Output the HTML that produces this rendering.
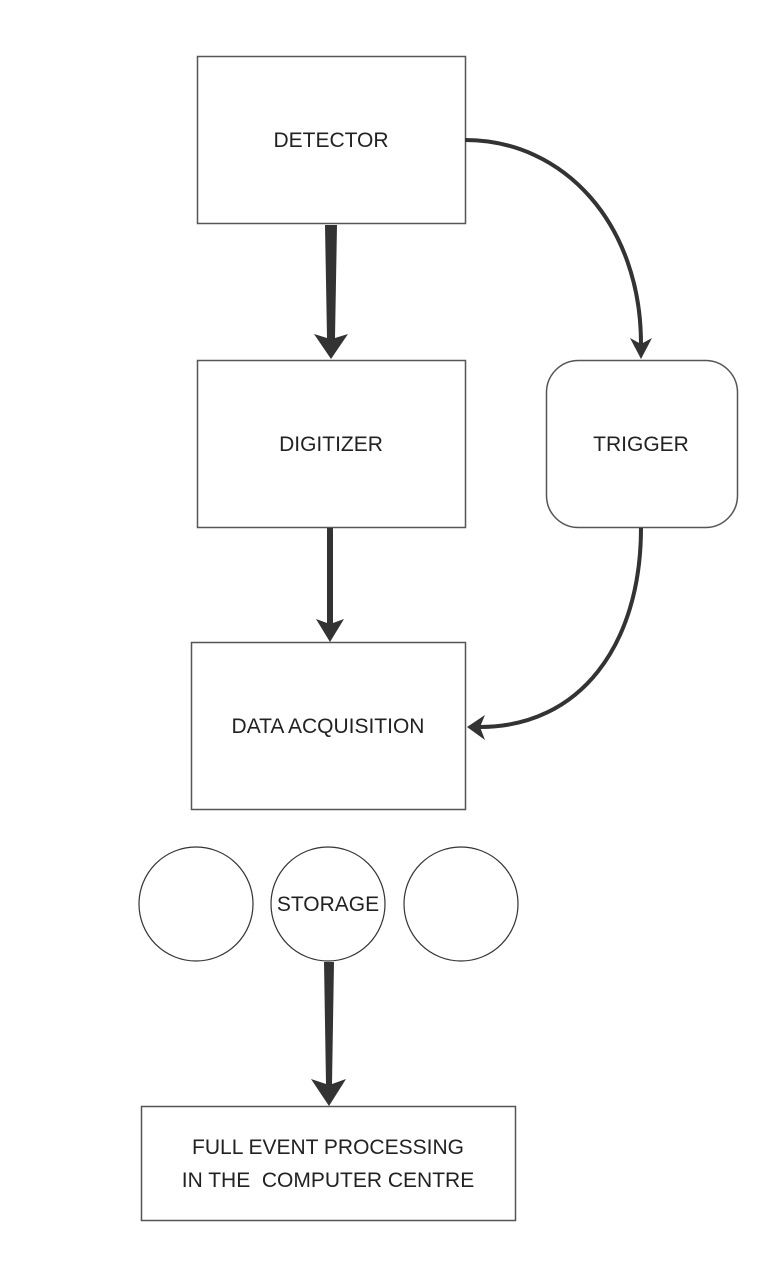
<!DOCTYPE html>
<html><head><meta charset="utf-8"><style>
html,body{margin:0;padding:0;background:#fff;}
svg{display:block;}
text{font-family:"Liberation Sans",sans-serif;font-size:21px;fill:#222;text-anchor:middle;}
</style></head><body>
<svg width="781" height="1279" viewBox="0 0 781 1279" xmlns="http://www.w3.org/2000/svg">
<g fill="#fff" stroke="#555" stroke-width="1.5">
<rect x="197.5" y="56.5" width="268" height="167"/>
<rect x="197.5" y="360.5" width="268" height="167"/>
<rect x="546.5" y="360.5" width="191" height="167" rx="32"/>
<rect x="191.5" y="642.5" width="274" height="167"/>
<rect x="141.5" y="1106.5" width="374" height="114"/>
</g>
<g fill="#fff" stroke="#333" stroke-width="1.2">
<circle cx="196" cy="904" r="57"/>
<circle cx="328" cy="904" r="57"/>
<circle cx="461" cy="904" r="57"/>
</g>
<g fill="#333">
<polygon points="325,225 337,225 335,338 348,334 331,359 314,334 327,338"/>
<polygon points="327,528 333,528 333,623 344,619 330,642 316,619 327,623"/>
<polygon points="324,962 334,962 332,1084 346,1079 329,1106 311,1079 326,1084"/>
<polygon points="630,338 641,344 652,338 641,359"/>
<polygon points="467,727 485,715 480,727 485,740"/>
</g>
<g fill="none" stroke="#333" stroke-width="4">
<path d="M465,140 C565,140 641,225 641,344"/>
<path d="M641,528 C641,645 580,727 480,727"/>
</g>
<text x="331" y="147">DETECTOR</text>
<text x="331" y="451">DIGITIZER</text>
<text x="641" y="451">TRIGGER</text>
<text x="328" y="733">DATA ACQUISITION</text>
<text x="328" y="911">STORAGE</text>
<text x="328" y="1154">FULL EVENT PROCESSING</text>
<text x="328" y="1187" xml:space="preserve">IN THE  COMPUTER CENTRE</text>
</svg>
</body></html>
